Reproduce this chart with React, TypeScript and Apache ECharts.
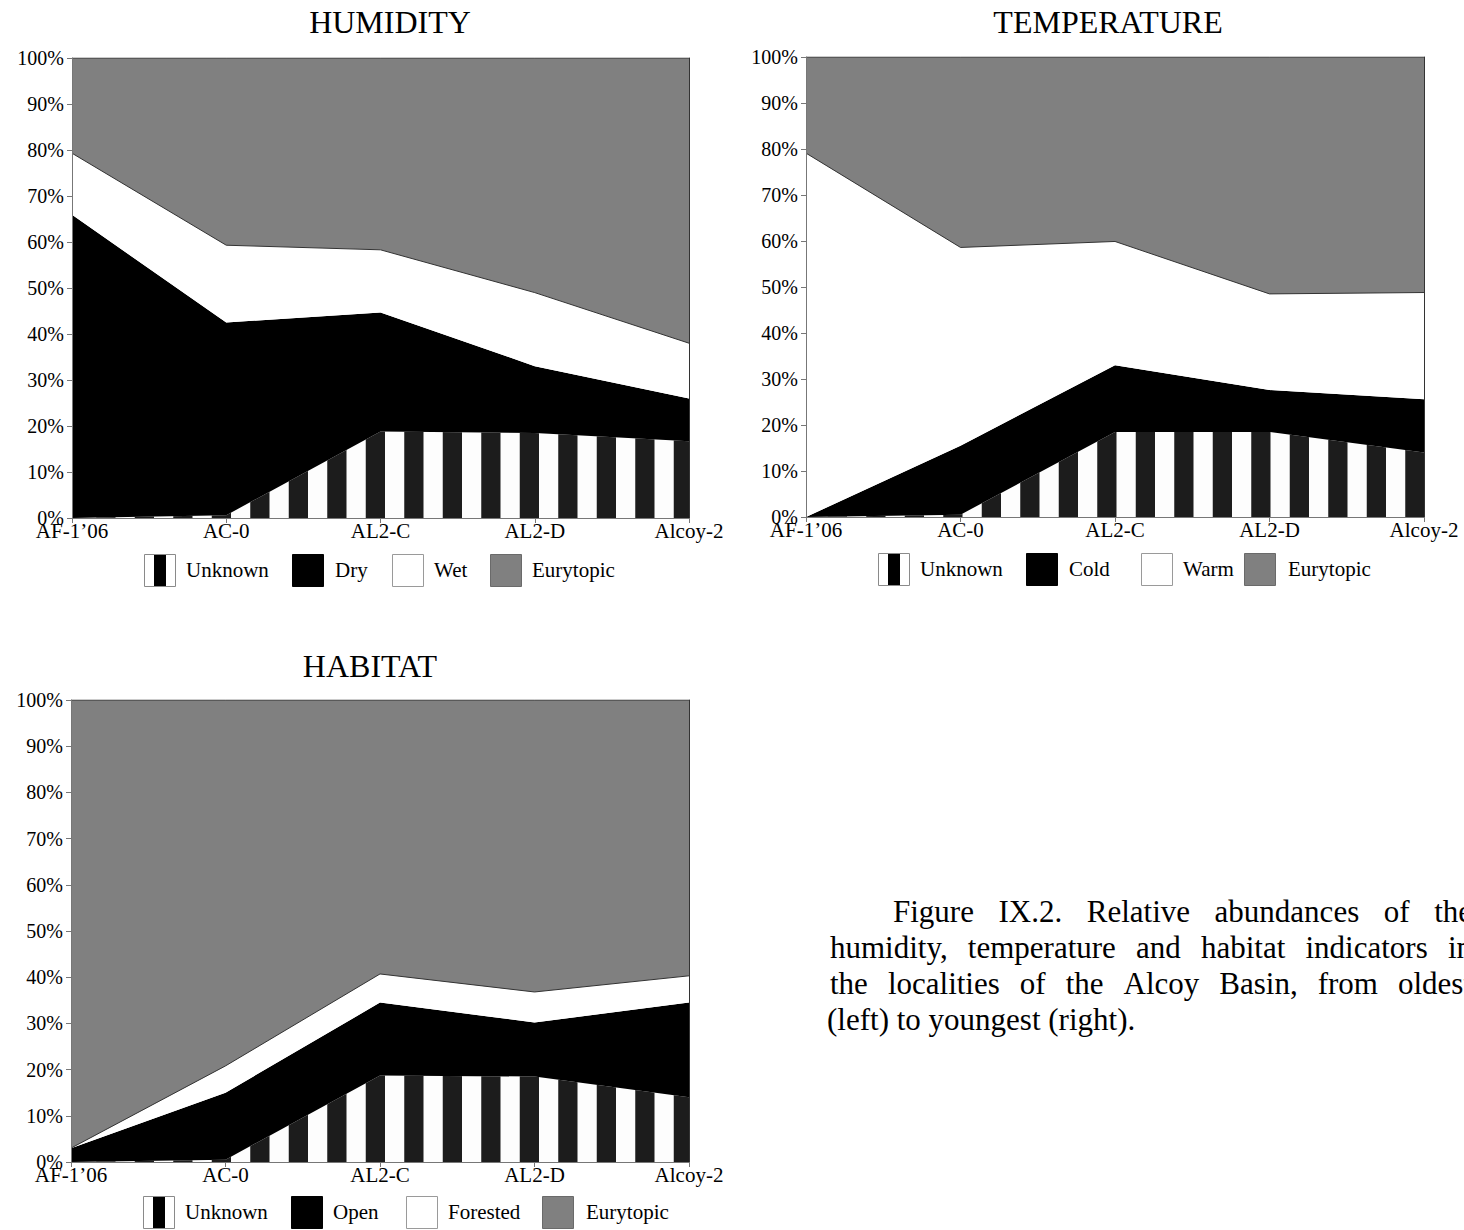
import React, { useEffect, useRef } from 'react';
import * as echarts from 'echarts';

const categories = ['AF-1\u201906', 'AC-0', 'AL2-C', 'AL2-D', 'Alcoy-2'];

const humidityNames = ['Unknown', 'Dry', 'Wet', 'Eurytopic'];
const humidityUnknown = [0, 0.6, 18.8, 18.5, 16.7];
const humidityDry = [65.9, 41.9, 25.9, 14.5, 9.3];
const humidityWet = [13.4, 16.8, 13.6, 16.0, 12.0];
const humidityEurytopic = [20.7, 40.7, 41.7, 51.0, 62.0];

const temperatureNames = ['Unknown', 'Cold', 'Warm', 'Eurytopic'];
const temperatureUnknown = [0, 0.5, 18.5, 18.5, 14.0];
const temperatureCold = [0, 15.0, 14.5, 9.1, 11.6];
const temperatureWarm = [79.1, 43.1, 26.9, 20.9, 23.2];
const temperatureEurytopic = [20.9, 41.4, 40.1, 51.5, 51.2];

const habitatNames = ['Unknown', 'Open', 'Forested', 'Eurytopic'];
const habitatUnknown = [0, 0.5, 18.7, 18.5, 14.0];
const habitatOpen = [3.0, 14.5, 15.8, 11.7, 20.5];
const habitatForested = [0, 5.8, 6.2, 6.6, 5.8];
const habitatEurytopic = [97.0, 79.2, 59.3, 63.2, 59.7];

const titles = ['HUMIDITY', 'TEMPERATURE', 'HABITAT'];

const captionLines = [
  'Figure IX.2. Relative abundances of the',
  'humidity, temperature and habitat indicators in',
  'the localities of the Alcoy Basin, from oldest',
  '(left) to youngest (right).',
];

const FONT = '"Liberation Serif", "Times New Roman", serif';

// layout (positions only)
const panels = [
  {
    names: humidityNames,
    values: [humidityUnknown, humidityDry, humidityWet, humidityEurytopic],
    grid: { left: 72, top: 58, width: 617, height: 460 },
    titleX: 390, titleY: 22,
    legendTop: 554, iconX: [144, 292, 392, 490], textX: [186, 335, 434, 532],
  },
  {
    names: temperatureNames,
    values: [temperatureUnknown, temperatureCold, temperatureWarm, temperatureEurytopic],
    grid: { left: 806, top: 57, width: 618, height: 460 },
    titleX: 1108, titleY: 22,
    legendTop: 553, iconX: [878, 1026, 1141, 1244], textX: [920, 1069, 1183, 1288],
  },
  {
    names: habitatNames,
    values: [habitatUnknown, habitatOpen, habitatForested, habitatEurytopic],
    grid: { left: 71, top: 700, width: 618, height: 462 },
    titleX: 370, titleY: 666,
    legendTop: 1196, iconX: [143, 291, 406, 542], textX: [185, 333, 448, 586],
  },
];

const STRIPE_DARK = '#1c1c1c';
const STRIPE_LIGHT = '#fdfdfd';

function makeStripeCanvas(): HTMLCanvasElement {
  const c = document.createElement('canvas');
  c.width = 77;
  c.height = 4;
  const ctx = c.getContext('2d')!;
  ctx.fillStyle = STRIPE_LIGHT;
  ctx.fillRect(0, 0, 77, 4);
  ctx.fillStyle = STRIPE_DARK;
  ctx.fillRect(19.25, 0, 19.25, 4);
  ctx.fillRect(57.75, 0, 19.25, 4);
  return c;
}

function buildOption(): any {
  const stripe = makeStripeCanvas();
  const grids: any[] = [];
  const xAxes: any[] = [];
  const yAxes: any[] = [];
  const series: any[] = [];
  const graphics: any[] = [];
  const fills = ['stripe', '#000000', '#ffffff', '#808080'];

  panels.forEach((p, i) => {
    grids.push({ ...p.grid, containLabel: false });
    xAxes.push({
      type: 'category',
      gridIndex: i,
      data: categories,
      boundaryGap: false,
      z: 5,
      axisLine: { show: true, lineStyle: { color: '#777', width: 1 } },
      axisTick: { show: true, length: 5, lineStyle: { color: '#777' } },
      axisLabel: { color: '#000', fontSize: 21, fontFamily: FONT, margin: 2, interval: 0 },
      splitLine: { show: false },
    });
    yAxes.push({
      type: 'value',
      gridIndex: i,
      min: 0,
      max: 100,
      interval: 10,
      z: 5,
      axisLine: { show: true, lineStyle: { color: '#777', width: 1 } },
      axisTick: { show: true, length: 5, lineStyle: { color: '#777' } },
      axisLabel: { formatter: '{value}%', color: '#000', fontSize: 20, fontFamily: FONT, margin: 8 },
      splitLine: { show: false },
    });
  });
  panels.forEach((p, i) => {
    yAxes.push({
      type: 'value',
      gridIndex: i,
      position: 'right',
      min: 0,
      max: 100,
      z: 5,
      axisLine: { show: true, lineStyle: { color: '#333', width: 1 } },
      axisTick: { show: false },
      axisLabel: { show: false },
      splitLine: { show: false },
    });
  });

  panels.forEach((p, i) => {
    p.values.forEach((vals, k) => {
      const color =
        k === 0
          ? { image: stripe, repeat: 'repeat', imageWidth: 77, imageHeight: 4, x: p.grid.left, y: 0 }
          : fills[k];
      series.push({
        type: 'line',
        name: p.names[k] + ' ' + i,
        xAxisIndex: i,
        yAxisIndex: i,
        stack: 'stack' + i,
        data: vals,
        symbol: 'none',
        showSymbol: false,
        silent: true,
        lineStyle: k >= 2 ? { width: 1, color: '#333' } : { width: 0, opacity: 0 },
        areaStyle: { color, opacity: 1 },
      });
    });

    // title
    graphics.push({
      type: 'text',
      x: p.titleX,
      y: p.titleY,
      style: {
        text: titles[i],
        font: '32px ' + FONT,
        fill: '#000',
        align: 'center',
        verticalAlign: 'middle',
        textAlign: 'center',
        textVerticalAlign: 'middle',
      },
    });

    // legend
    const top = p.legendTop;
    p.names.forEach((name, k) => {
      const x = p.iconX[k];
      if (k === 0) {
        graphics.push({
          type: 'rect',
          shape: { x: x + 0.5, y: top + 0.5, width: 31, height: 32 },
          style: { fill: '#fff', stroke: '#8a8a8a', lineWidth: 1 },
        });
        graphics.push({
          type: 'rect',
          shape: { x: x + 10, y: top + 1, width: 12, height: 31 },
          style: { fill: '#000' },
        });
      } else {
        const f = fills[k];
        graphics.push({
          type: 'rect',
          shape: { x: x + 0.5, y: top + 0.5, width: 31, height: 32 },
          style: {
            fill: f,
            stroke: k === 1 ? '#000' : k === 2 ? '#9a9a9a' : '#6a6a6a',
            lineWidth: 1,
          },
        });
      }
      graphics.push({
        type: 'text',
        x: p.textX[k],
        y: top + 16,
        style: {
          text: name,
          font: '21px ' + FONT,
          fill: '#000',
          align: 'left',
          verticalAlign: 'middle',
          textAlign: 'left',
          textVerticalAlign: 'middle',
        },
      });
    });
  });

  // caption (justified lines, clipped at the right edge like the reference)
  const captionFontSize = 31;
  const capFont = captionFontSize + 'px ' + FONT;
  const mc = document.createElement('canvas').getContext('2d')!;
  mc.font = capFont;
  const lineStarts = [893, 830, 830, 827];
  const rightEdge = 1472;
  const lineY = [911, 947, 983, 1019];
  captionLines.forEach((line, li) => {
    if (li === captionLines.length - 1) {
      graphics.push({
        type: 'text',
        x: lineStarts[li],
        y: lineY[li],
        style: { text: line, font: capFont, fill: '#000', align: 'left', verticalAlign: 'middle', textAlign: 'left', textVerticalAlign: 'middle' },
      });
      return;
    }
    const words = line.split(' ');
    const widths = words.map((w) => mc.measureText(w).width);
    const total = widths.reduce((a, b) => a + b, 0);
    const gap = (rightEdge - lineStarts[li] - total) / (words.length - 1);
    let x = lineStarts[li];
    words.forEach((w, wi) => {
      graphics.push({
        type: 'text',
        x,
        y: lineY[li],
        style: { text: w, font: capFont, fill: '#000', align: 'left', verticalAlign: 'middle', textAlign: 'left', textVerticalAlign: 'middle' },
      });
      x += widths[wi] + gap;
    });
  });

  return {
    animation: false,
    backgroundColor: '#ffffff',
    textStyle: { fontFamily: FONT },
    grid: grids,
    xAxis: xAxes,
    yAxis: yAxes,
    series,
    graphic: graphics,
  };
}

export default function App() {
  const ref = useRef<HTMLDivElement>(null);
  useEffect(() => {
    if (!ref.current) return;
    const chart = echarts.init(ref.current, null, { renderer: 'svg' });
    chart.setOption(buildOption());
    return () => chart.dispose();
  }, []);
  return (
    <div
      ref={ref}
      style={{ position: 'absolute', left: 0, top: 0, width: 1464, height: 1230, background: '#fff' }}
    />
  );
}
